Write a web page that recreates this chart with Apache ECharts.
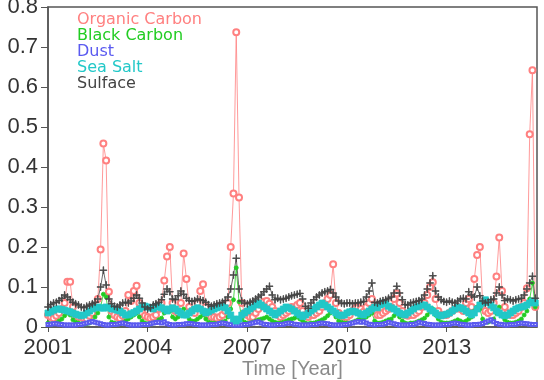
<!DOCTYPE html>
<html>
<head>
<meta charset="utf-8">
<script src="https://cdn.jsdelivr.net/npm/echarts@6/dist/echarts.min.js"></script>
<style>html,body{margin:0;padding:0;background:#fff}#c{width:544px;height:380px}</style>
</head>
<body>
<div id="c"></div>
<script>
// Monthly values, Jan 2001 .. Sep 2015
const startYear = 2001;
const seriesNames = ['Organic Carbon', 'Black Carbon', 'Dust', 'Sea Salt', 'Sulface'];
const xTickLabels = ['2001', '2004', '2007', '2010', '2013'];
const yTickLabels = ['0', '0.1', '0.2', '0.3', '0.4', '0.5', '0.6', '0.7', '0.8'];

const organicCarbon = [
  0.030,0.025,0.022,0.028,0.035,0.045,0.060,0.113,0.113,0.050,0.030,0.025,
  0.025,0.022,0.020,0.028,0.035,0.050,0.070,0.194,0.459,0.416,0.088,0.040,
  0.030,0.025,0.022,0.028,0.040,0.080,0.065,0.090,0.103,0.060,0.035,0.028,
  0.025,0.022,0.025,0.030,0.045,0.060,0.116,0.176,0.200,0.060,0.040,0.035,
  0.060,0.184,0.120,0.050,0.040,0.035,0.060,0.090,0.107,0.050,0.030,0.025,
  0.025,0.022,0.025,0.030,0.040,0.060,0.200,0.334,0.737,0.324,0.060,0.035,
  0.030,0.025,0.025,0.035,0.045,0.055,0.063,0.065,0.058,0.050,0.040,0.030,
  0.025,0.030,0.035,0.040,0.050,0.045,0.055,0.060,0.040,0.030,0.025,0.030,
  0.030,0.035,0.040,0.050,0.060,0.070,0.080,0.157,0.060,0.035,0.028,0.025,
  0.025,0.030,0.040,0.047,0.050,0.045,0.038,0.050,0.060,0.070,0.040,0.030,
  0.030,0.035,0.040,0.045,0.050,0.070,0.084,0.060,0.040,0.030,0.028,0.030,
  0.030,0.035,0.040,0.050,0.060,0.080,0.100,0.112,0.070,0.040,0.030,0.030,
  0.030,0.035,0.040,0.045,0.050,0.045,0.040,0.060,0.070,0.050,0.120,0.180,
  0.200,0.060,0.040,0.035,0.040,0.060,0.126,0.224,0.090,0.050,0.035,0.030,
  0.030,0.035,0.040,0.050,0.060,0.097,0.482,0.642,0.050
];
const blackCarbon = [
  0.010,0.008,0.008,0.010,0.015,0.020,0.028,0.035,0.030,0.018,0.012,0.010,
  0.008,0.007,0.008,0.010,0.015,0.025,0.035,0.050,0.082,0.075,0.025,0.012,
  0.010,0.008,0.008,0.010,0.015,0.020,0.025,0.030,0.035,0.025,0.015,0.010,
  0.008,0.008,0.010,0.012,0.018,0.022,0.035,0.045,0.040,0.025,0.020,0.025,
  0.035,0.045,0.030,0.020,0.015,0.015,0.020,0.025,0.030,0.020,0.012,0.010,
  0.010,0.008,0.010,0.012,0.015,0.025,0.045,0.068,0.148,0.063,0.020,0.012,
  0.010,0.010,0.012,0.015,0.018,0.020,0.022,0.025,0.020,0.015,0.012,0.010,
  0.010,0.012,0.015,0.018,0.020,0.022,0.025,0.020,0.015,0.010,0.008,0.010,
  0.010,0.012,0.015,0.018,0.022,0.028,0.035,0.040,0.025,0.015,0.012,0.010,
  0.010,0.010,0.012,0.015,0.018,0.020,0.022,0.025,0.030,0.035,0.015,0.010,
  0.010,0.012,0.015,0.018,0.020,0.028,0.035,0.025,0.015,0.010,0.008,0.010,
  0.010,0.012,0.015,0.018,0.022,0.030,0.038,0.045,0.030,0.020,0.012,0.010,
  0.010,0.010,0.012,0.015,0.018,0.015,0.012,0.015,0.020,0.025,0.040,0.050,
  0.045,0.020,0.012,0.012,0.015,0.020,0.035,0.050,0.030,0.018,0.012,0.010,
  0.010,0.012,0.015,0.020,0.030,0.040,0.070,0.110,0.050
];
const dust = [
  0.006,0.007,0.008,0.008,0.007,0.006,0.005,0.005,0.005,0.005,0.005,0.006,
  0.006,0.008,0.010,0.012,0.014,0.012,0.010,0.008,0.006,0.005,0.005,0.006,
  0.006,0.007,0.009,0.010,0.008,0.006,0.005,0.005,0.005,0.005,0.006,0.006,
  0.006,0.008,0.010,0.011,0.012,0.010,0.013,0.008,0.006,0.005,0.005,0.006,
  0.006,0.007,0.008,0.009,0.008,0.007,0.006,0.005,0.005,0.005,0.005,0.006,
  0.006,0.007,0.009,0.010,0.009,0.007,0.006,0.005,0.005,0.005,0.005,0.006,
  0.006,0.008,0.010,0.012,0.013,0.010,0.007,0.006,0.005,0.005,0.005,0.006,
  0.006,0.007,0.009,0.010,0.009,0.007,0.006,0.005,0.005,0.005,0.005,0.006,
  0.006,0.007,0.009,0.010,0.009,0.008,0.006,0.005,0.005,0.005,0.005,0.006,
  0.006,0.008,0.010,0.012,0.014,0.012,0.013,0.010,0.007,0.006,0.005,0.006,
  0.006,0.007,0.009,0.012,0.010,0.008,0.006,0.005,0.005,0.005,0.005,0.006,
  0.006,0.008,0.012,0.010,0.009,0.007,0.006,0.005,0.005,0.005,0.005,0.006,
  0.006,0.007,0.009,0.010,0.009,0.007,0.006,0.005,0.005,0.005,0.006,0.006,
  0.007,0.009,0.012,0.015,0.018,0.013,0.009,0.007,0.006,0.005,0.005,0.006,
  0.006,0.007,0.009,0.010,0.009,0.008,0.007,0.006,0.006
];
const seaSalt = [
  0.035,0.038,0.042,0.045,0.045,0.044,0.042,0.040,0.038,0.035,0.032,0.030,
  0.028,0.030,0.035,0.040,0.045,0.048,0.050,0.048,0.047,0.050,0.048,0.045,
  0.045,0.042,0.040,0.035,0.030,0.030,0.033,0.036,0.040,0.045,0.050,0.052,
  0.050,0.048,0.045,0.050,0.052,0.048,0.045,0.040,0.045,0.048,0.045,0.040,
  0.035,0.030,0.030,0.035,0.040,0.045,0.048,0.045,0.040,0.035,0.038,0.042,
  0.045,0.048,0.050,0.052,0.048,0.040,0.030,0.020,0.015,0.020,0.030,0.035,
  0.040,0.045,0.050,0.055,0.060,0.055,0.050,0.045,0.040,0.035,0.030,0.035,
  0.040,0.045,0.050,0.048,0.045,0.040,0.035,0.030,0.026,0.030,0.035,0.040,
  0.045,0.050,0.055,0.060,0.055,0.050,0.045,0.040,0.035,0.030,0.028,0.030,
  0.035,0.038,0.040,0.038,0.035,0.032,0.030,0.035,0.040,0.045,0.050,0.048,
  0.055,0.060,0.058,0.052,0.048,0.045,0.040,0.035,0.032,0.030,0.035,0.040,
  0.045,0.050,0.052,0.055,0.055,0.050,0.045,0.040,0.035,0.030,0.028,0.030,
  0.032,0.035,0.040,0.045,0.050,0.048,0.045,0.040,0.035,0.030,0.035,0.045,
  0.055,0.060,0.068,0.062,0.055,0.048,0.040,0.035,0.030,0.028,0.030,0.035,
  0.040,0.045,0.048,0.050,0.052,0.055,0.060,0.065,0.060
];
const sulfate = [
  0.050,0.056,0.060,0.062,0.066,0.072,0.080,0.075,0.068,0.062,0.058,0.055,
  0.050,0.048,0.052,0.055,0.058,0.062,0.070,0.100,0.142,0.105,0.070,0.058,
  0.052,0.050,0.055,0.060,0.062,0.060,0.065,0.072,0.080,0.072,0.060,0.050,
  0.045,0.048,0.055,0.058,0.062,0.068,0.082,0.095,0.088,0.070,0.068,0.078,
  0.090,0.082,0.072,0.066,0.064,0.066,0.070,0.068,0.066,0.062,0.056,0.052,
  0.055,0.058,0.060,0.062,0.066,0.075,0.095,0.130,0.172,0.095,0.065,0.060,
  0.058,0.062,0.065,0.070,0.075,0.080,0.088,0.095,0.102,0.080,0.068,0.072,
  0.068,0.070,0.072,0.075,0.078,0.080,0.082,0.084,0.070,0.052,0.047,0.060,
  0.068,0.075,0.080,0.085,0.088,0.090,0.094,0.085,0.075,0.065,0.060,0.058,
  0.060,0.060,0.058,0.060,0.060,0.062,0.064,0.075,0.090,0.110,0.062,0.060,
  0.064,0.066,0.068,0.072,0.075,0.085,0.102,0.085,0.068,0.056,0.055,0.060,
  0.062,0.064,0.066,0.070,0.080,0.095,0.110,0.128,0.090,0.075,0.068,0.064,
  0.062,0.065,0.062,0.060,0.065,0.070,0.072,0.070,0.088,0.080,0.075,0.100,
  0.078,0.065,0.060,0.062,0.068,0.070,0.085,0.100,0.080,0.066,0.070,0.068,
  0.065,0.068,0.070,0.072,0.080,0.095,0.110,0.127,0.072
];

const colors = ['#ff8080', '#22cc22', '#5a5af0', '#22c8c8', '#444444'];
const values = [organicCarbon, blackCarbon, dust, seaSalt, sulfate];
const plusPath = 'path://M4.6,0 H5.4 V4.6 H10 V5.4 H5.4 V10 H4.6 V5.4 H0 V4.6 H4.6 Z';
const symbols = ['emptyCircle', 'circle', 'emptyRect', 'rect', plusPath];
const symbolSizes = [6, 4, 3, 6, 7];
const lineWidths = [0.8, 0.8, 0.7, 0.8, 0.8];

const toPairs = arr => arr.map((v, i) => [startYear + i / 12, v]);

const chart = echarts.init(document.getElementById('c'), null, {renderer: 'canvas'});
const FONT = '"Liberation Sans", Arial, sans-serif';
chart.setOption({
  animation: false,
  backgroundColor: '#fff',
  grid: {left: 48, right: 7, top: 7, bottom: 53, outerBoundsMode: 'none', containLabel: false,
         show: true, borderColor: '#555', borderWidth: 1.5, backgroundColor: 'transparent'},
  legend: {
    orient: 'vertical', left: 67, top: 7, itemGap: 0, icon: 'none', itemWidth: 0, itemHeight: 16,
    selectedMode: false,
    textStyle: {fontFamily: '"DejaVu Sans", sans-serif', fontSize: 16, lineHeight: 16},
    data: seriesNames.map((n, i) => ({name: n, textStyle: {color: colors[i]}}))
  },
  xAxis: {
    type: 'value', min: 2001, max: 2015.72, interval: 3,
    name: 'Time [Year]', nameLocation: 'middle', nameGap: 32, nameMoveOverlap: false,
    nameTextStyle: {fontFamily: FONT, fontSize: 20, color: '#8a8a8a', verticalAlign: 'top'},
    axisLine: {show: true, lineStyle: {color: '#555', width: 1.5}},
    axisTick: {show: true, length: 5, lineStyle: {color: '#555'}},
    splitLine: {show: false},
    axisLabel: {
      fontFamily: FONT, fontSize: 22, color: '#333', margin: 10, showMaxLabel: false,
      formatter: v => { const k = Math.round((v - 2001) / 3); return (Math.abs(v - 2001 - 3 * k) < 1e-6 && xTickLabels[k]) ? xTickLabels[k] : ''; }
    }
  },
  yAxis: {
    type: 'value', min: 0, max: 0.8, interval: 0.1,
    axisLine: {show: true, lineStyle: {color: '#555', width: 1.5}},
    axisTick: {show: true, length: 7, lineStyle: {color: '#555'}},
    splitLine: {show: false},
    axisLabel: {
      fontFamily: FONT, fontSize: 22, color: '#333', margin: 10,
      formatter: v => yTickLabels[Math.round(v * 10)]
    }
  },
  series: seriesNames.map((n, i) => ({
    name: n, type: 'line', data: toPairs(values[i]),
    symbol: symbols[i], symbolSize: symbolSizes[i],
    showAllSymbol: true,
    lineStyle: {color: colors[i], width: lineWidths[i]},
    itemStyle: {color: colors[i], borderColor: colors[i], borderWidth: 0.8},
    emphasis: {disabled: true}
  }))
});
</script>
</body>
</html>
